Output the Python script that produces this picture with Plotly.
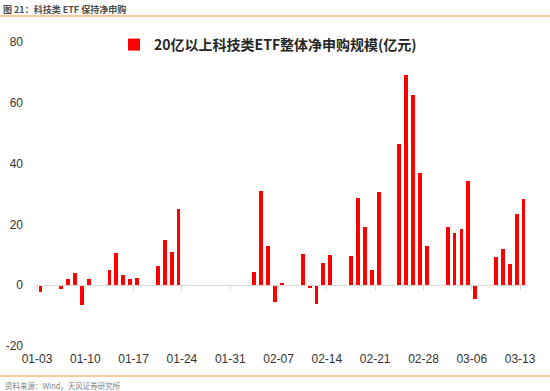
import plotly.graph_objects as go

# ---- data ----
dates = [
    "2020-01-03",
    "2020-01-06", "2020-01-07", "2020-01-08", "2020-01-09", "2020-01-10",
    "2020-01-13", "2020-01-14", "2020-01-15", "2020-01-16", "2020-01-17",
    "2020-01-20", "2020-01-21", "2020-01-22", "2020-01-23",
    "2020-02-03", "2020-02-04", "2020-02-05", "2020-02-06", "2020-02-07",
    "2020-02-10", "2020-02-11", "2020-02-12", "2020-02-13", "2020-02-14",
    "2020-02-17", "2020-02-18", "2020-02-19", "2020-02-20", "2020-02-21",
    "2020-02-24", "2020-02-25", "2020-02-26", "2020-02-27", "2020-02-28",
    "2020-03-02", "2020-03-03", "2020-03-04", "2020-03-05", "2020-03-06",
    "2020-03-09", "2020-03-10", "2020-03-11", "2020-03-12", "2020-03-13",
]
net_subscription = [
    -2.1,
    -1.4, 2.0, 3.9, -6.6, 1.9,
    5.0, 10.5, 3.3, 2.2, 2.5,
    6.3, 14.8, 10.8, 25.1,
    4.5, 30.9, 12.9, -5.6, 0.8,
    10.3, -0.8, -6.1, 7.2, 9.9,
    9.5, 28.7, 19.3, 5.0, 30.6,
    46.4, 69.0, 62.7, 36.9, 12.8,
    19.2, 17.2, 18.5, 34.3, -4.5,
    9.2, 11.9, 7.1, 23.3, 28.4,
]
tick_labels = ["01-03", "01-10", "01-17", "01-24", "01-31", "02-07",
               "02-14", "02-21", "02-28", "03-06", "03-13"]
y_ticks = [-20, 0, 20, 40, 60, 80]

series_name = "20亿以上科技类ETF整体净申购规模(亿元)"
title_text = "图 21：科技类 ETF 保持净申购"
source_text = "资料来源：Wind，天风证券研究所"

tick_vals = ["2020-" + t for t in tick_labels]
DAY_MS = 86400000

FONT = "Arial, Liberation Sans, Noto Sans CJK SC, sans-serif"
CJK = "Noto Sans CJK SC, sans-serif"

fig = go.Figure()
fig.add_trace(go.Bar(
    x=dates, y=net_subscription, name=series_name,
    marker=dict(color="#ff0000", line=dict(width=0)),
    xperiod=DAY_MS, xperiodalignment="middle",
    width=0.56 * DAY_MS,
    showlegend=True,
))

W, H = 550, 391
L, R, T, B = 37, 23, 42, 45
pw = W - L - R
ph = H - T - B

def px(x):
    return (x - L) / pw

def py(y):
    return (H - B - y) / ph

fig.update_layout(
    width=W, height=H,
    margin=dict(l=L, r=R, t=T, b=B, autoexpand=False),
    paper_bgcolor="white", plot_bgcolor="white",
    font=dict(family=FONT, size=12, color="#333333"),
    bargap=0,
    showlegend=True,
    legend=dict(
        orientation="h", x=px(268), xanchor="center", y=py(45), yanchor="middle",
        font=dict(family=CJK, size=14, color="#262626", weight="bold"),
        bgcolor="rgba(0,0,0,0)", itemwidth=30,
    ),
    xaxis=dict(
        type="date", automargin=False,
        range=["2020-01-03", "2020-03-14"],
        tickvals=tick_vals, ticktext=tick_labels,
        showgrid=False, showline=False, zeroline=False, ticks="",
        tickfont=dict(family=FONT, size=12, color="#333333"),
        ticklabelstandoff=4,
    ),
    xaxis2=dict(
        type="date", overlaying="x", matches="x", anchor="free",
        position=0.2, side="bottom", automargin=False,
        range=["2020-01-03", "2020-03-14"],
        tickvals=tick_vals, showticklabels=False,
        showgrid=False, zeroline=False,
        showline=True, linecolor="#d9d9d9", linewidth=1,
        ticks="outside", ticklen=4, tickcolor="#d9d9d9", tickwidth=1,
    ),
    yaxis=dict(
        range=[-20, 80], tickvals=y_ticks, ticktext=[str(v) for v in y_ticks],
        automargin=False,
        showgrid=False, zeroline=False, showline=False, ticks="",
        tickfont=dict(family=FONT, size=12, color="#333333"),
        ticklabelstandoff=13,
    ),
    title=dict(
        text=title_text, x=3 / W, xanchor="left", xref="container",
        y=1 - 10 / H, yanchor="middle", yref="container",
        font=dict(family=CJK, size=9, color="#4d4d4d", weight="bold"),
    ),
)

# invisible helper trace so the zero-crossing tick axis (xaxis2) is drawn
fig.add_trace(go.Scatter(x=[dates[0]], y=[0], xaxis="x2", mode="markers",
                         marker=dict(opacity=0), showlegend=False, hoverinfo="skip"))

fig.add_shape(type="line", xref="paper", yref="paper",
              x0=px(0), x1=px(W), y0=py(16), y1=py(16),
              line=dict(color="#f8c99c", width=2))
fig.add_shape(type="line", xref="paper", yref="paper",
              x0=px(0), x1=px(W), y0=py(376), y1=py(376),
              line=dict(color="#f8c99c", width=2))
fig.add_annotation(text=source_text, xref="paper", yref="paper",
                   x=px(3), xanchor="left", y=py(385), yanchor="middle",
                   showarrow=False,
                   font=dict(family=CJK, size=7.5, color="#7f7f7f"))

fig.write_html("out.html", config={"displayModeBar": False},
               post_script="document.body.style.margin='0';")
